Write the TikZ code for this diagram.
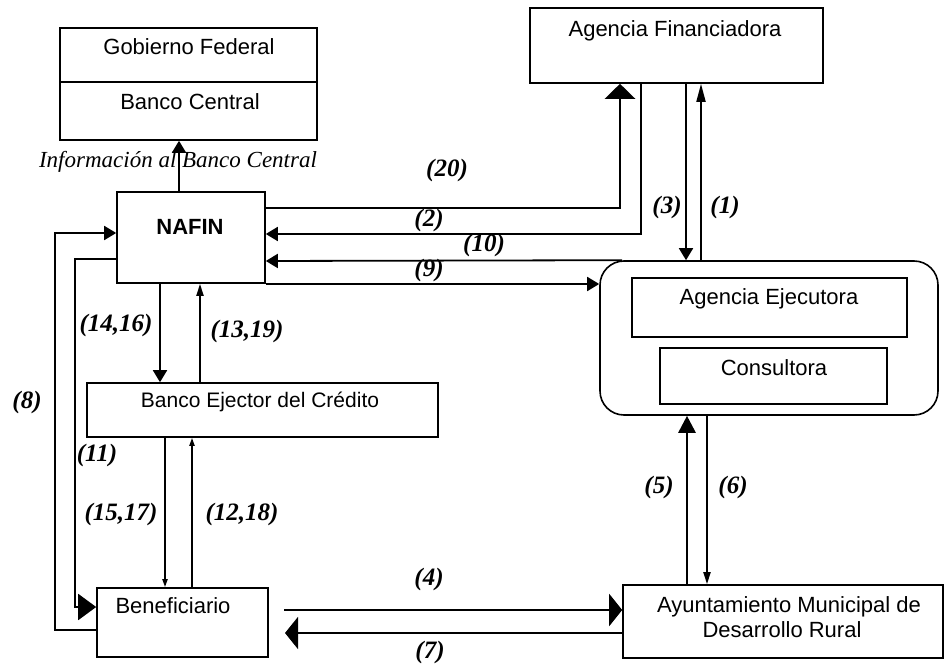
\documentclass[tikz,border=0pt]{standalone}
\usepackage{fontspec}
\setmainfont{Liberation Serif}
\setsansfont{Liberation Sans}
\usetikzlibrary{arrows.meta}
\begin{document}
\begin{tikzpicture}[x=1pt,y=-1pt,
  box/.style={draw, line width=1.6pt, inner sep=0pt},
  txt/.style={font=\sffamily\fontsize{22}{22}\selectfont, anchor=base, inner sep=0pt},
  lbl/.style={font=\fontsize{25}{25}\selectfont\bfseries\itshape, inner sep=0pt},
  conn/.style={line width=1.8pt},
  thick conn/.style={line width=2.8pt},
  tipL/.style={-{Triangle[width=30pt,length=15pt]}},
  tipW/.style={-{Triangle[width=32pt,length=13pt]}},
  tipB/.style={-{Triangle[width=17pt,length=17pt]}},
  tipK/.style={-{Triangle[width=26pt,length=18pt]}},
  tipM/.style={-{Triangle[width=14pt,length=12pt]}},
  tipN/.style={-{Triangle[width=9pt,length=18pt]}},
  tipS/.style={-{Triangle[width=7pt,length=12pt]}},
  tipX/.style={-{Triangle[width=5pt,length=8pt]}}]
\useasboundingbox (0,0) rectangle (945,668);

% boxes
\node[box, minimum width=257pt, minimum height=112pt] (gob) at (188.5,84) {};
\node[box, minimum width=293pt, minimum height=75pt] (fin) at (676.5,45.5) {};
\node[box, minimum width=148pt, minimum height=91pt] (nafin) at (191,237.5) {};
\node[box, rounded corners=24pt, minimum width=338pt, minimum height=154pt] (ejec) at (769,338) {};
\node[box, minimum width=275pt, minimum height=59pt] (agej) at (769.5,307.5) {};
\node[box, minimum width=227pt, minimum height=56pt] (cons) at (773.5,376) {};
\node[box, minimum width=351pt, minimum height=54pt] (banco) at (262.5,410) {};
\node[box, minimum width=171pt, minimum height=69pt] (benef) at (182.5,622.5) {};
\node[box, minimum width=320pt, minimum height=73pt] (ayun) at (783,621.5) {};
\draw[line width=1.2pt] (gob.west |- 0,82) -- (gob.east |- 0,82);

% box texts
\node[txt] (tgob) at (189,55) {Gobierno Federal};
\node[txt] (tbc) at (190,110) {Banco Central};
\node[txt] (tfin) at (675,37) {Agencia Financiadora};
\node[txt, font=\sffamily\bfseries\fontsize{22}{22}\selectfont] (tnafin) at (190,235) {NAFIN};
\node[txt] (tagej) at (769,305) {Agencia Ejecutora};
\node[txt] (tcons) at (774,375) {Consultora};
\node[txt, font=\sffamily\fontsize{21}{21}\selectfont] (tbanco) at (260,407) {Banco Ejector del Crédito};
\node[txt] (tbenef) at (173,613) {Beneficiario};
\node[txt] (tayun1) at (789,612) {Ayuntamiento Municipal de};
\node[txt] (tayun2) at (782,637) {Desarrollo Rural};

% information text
\node[anchor=base, inner sep=0pt, font=\fontsize{23}{23}\selectfont\itshape] (tinfo) at (178,168) {Información al Banco Central};

% connectors
\draw[conn, tipM] (nafin.north -| 179,0) -- (gob.south -| 179,0);
\draw[thick conn, tipL] (nafin.east |- 0,208) -| (620,0 |- fin.south);
\draw[conn, tipM] (fin.south -| 641,0) |- (nafin.east |- 0,234);
\draw[conn, tipM] (ejec.north -| 622,0) -- (nafin.east |- 0,261);
\draw[conn, tipM] (nafin.east |- 0,284) -- (ejec.west |- 0,284);
\draw[conn, tipM] (fin.south -| 686,0) -- (ejec.north -| 686,0);
\draw[conn, tipN] (ejec.north -| 701,0) -- (fin.south -| 701,0);
\draw[conn, tipM] (nafin.south -| 160,0) -- (banco.north -| 160,0);
\draw[conn, tipS] (banco.north -| 200,0) -- (nafin.south -| 200,0);
\draw[conn, tipX] (banco.south -| 165,0) -- (benef.north -| 165,0);
\draw[conn, tipX] (benef.north -| 192,0) -- (banco.south -| 192,0);
\draw[conn, tipM] (benef.west |- 0,630) -| (55,233) -- (nafin.west |- 0,233);
\draw[conn, tipK] (nafin.west |- 0,259) -| (75,607) -- (benef.west |- 0,607);
\draw[thick conn, tipB] (ayun.north -| 687,0) -- (ejec.south -| 687,0);
\draw[conn, tipS] (ejec.south -| 707,0) -- (ayun.north -| 707,0);
\coordinate (s4) at (284,610);
\coordinate (e7) at (285,633);
\draw[conn, tipW] (s4) -- (ayun.west |- s4);
\draw[conn, tipW] (ayun.west |- e7) -- (e7);

% labels
\node[lbl] (l20) at (447,170) {(20)};
\node[lbl] (l2) at (429,220) {(2)};
\node[lbl] (l10) at (484,245) {(10)};
\node[lbl] (l9) at (429,270) {(9)};
\node[lbl] (l3) at (667,207) {(3)};
\node[lbl] (l1) at (725,207) {(1)};
\node[lbl] (l1416) at (116,325) {(14,16)};
\node[lbl] (l1319) at (247,331) {(13,19)};
\node[lbl] (l8) at (27,402) {(8)};
\node[lbl] (l11) at (97,455) {(11)};
\node[lbl] (l1517) at (121,514) {(15,17)};
\node[lbl] (l1218) at (242,514) {(12,18)};
\node[lbl] (l5) at (659,487) {(5)};
\node[lbl] (l6) at (733,487) {(6)};
\node[lbl] (l4) at (429,579) {(4)};
\node[lbl] (l7) at (430,652) {(7)};
\end{tikzpicture}
\end{document}
